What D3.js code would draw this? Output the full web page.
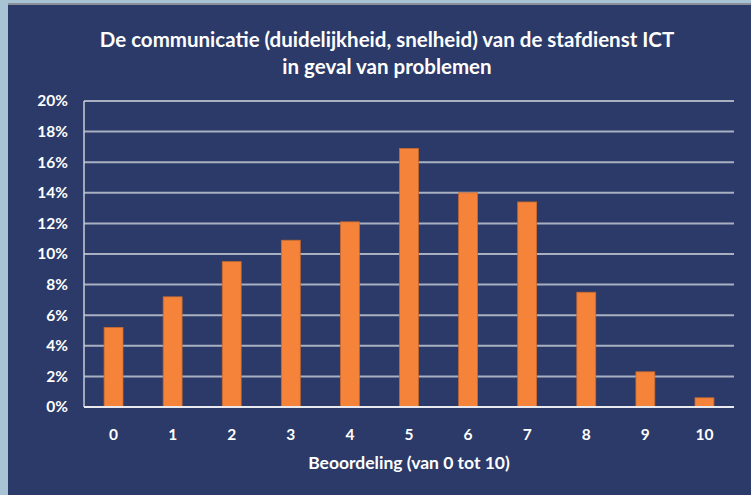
<!DOCTYPE html>
<html><head><meta charset="utf-8">
<script src="https://cdn.jsdelivr.net/npm/d3@7"></script>
<style>html,body{margin:0;padding:0;background:#a8c3d3;}svg{display:block;}</style>
</head><body>
<svg id="chart" width="751" height="495"></svg>
<script>
const titleLines = ["De communicatie (duidelijkheid, snelheid) van de stafdienst ICT", "in geval van problemen"];
const categories = ["0","1","2","3","4","5","6","7","8","9","10"];
const values = [0.052, 0.072, 0.095, 0.109, 0.121, 0.169, 0.140, 0.134, 0.075, 0.023, 0.006];
const yTicks = [0,0.02,0.04,0.06,0.08,0.10,0.12,0.14,0.16,0.18,0.20];
const xAxisTitle = "Beoordeling (van 0 tot 10)";

const svg = d3.select("#chart");
const font = "Lato, 'Open Sans', sans-serif";
// panel
svg.append("rect").attr("x",8).attr("y",3).attr("width",743).attr("height",492).attr("fill","#8a8f99");
svg.append("rect").attr("x",8).attr("y",5).attr("width",743).attr("height",490).attr("fill","#2b3a68");

const m = {left:84, right:734, top:101, bottom:407};
const x = d3.scaleBand().domain(categories).range([m.left,m.right]).paddingInner(0.68).paddingOuter(0.34);
const y = d3.scaleLinear().domain([0,0.2]).range([m.bottom,m.top]);

// gridlines
svg.append("g").selectAll("line").data(yTicks.slice(1)).join("line")
  .attr("x1",m.left).attr("x2",m.right).attr("y1",d=>y(d)).attr("y2",d=>y(d))
  .attr("stroke","#a9b0c2").attr("stroke-width",2);
// left axis line
svg.append("line").attr("x1",m.left).attr("x2",m.left).attr("y1",m.top).attr("y2",m.bottom)
  .attr("stroke","#c8ccd6").attr("stroke-width",1.5);

// bars
svg.append("g").selectAll("rect").data(values).join("rect")
  .attr("x",(d,i)=>x(categories[i])).attr("width",x.bandwidth())
  .attr("y",d=>y(d)).attr("height",d=>y(0)-y(d))
  .attr("fill","#f5843a").attr("stroke","#c86a30").attr("stroke-width",0.8);

// baseline
svg.append("line").attr("x1",m.left).attr("x2",m.right).attr("y1",y(0)).attr("y2",y(0))
  .attr("stroke","#e8eaf0").attr("stroke-width",2);

// y axis labels
const yAxis = d3.axisLeft(y).tickValues(yTicks).tickFormat(d3.format(".0%")).tickSize(0).tickPadding(16);
const gy = svg.append("g").attr("transform",`translate(${m.left},0)`).call(yAxis);
gy.select(".domain").remove();
gy.selectAll("text").attr("fill","#ffffff").attr("font-family",font).attr("font-weight","bold").attr("font-size","15.5px");

// x axis labels
const xAxis = d3.axisBottom(x).tickSize(0).tickPadding(22);
const gx = svg.append("g").attr("transform",`translate(0,${m.bottom})`).call(xAxis);
gx.select(".domain").remove();
gx.selectAll("text").attr("fill","#ffffff").attr("font-family",font).attr("font-weight","bold").attr("font-size","15.5px");

// x title
svg.append("text").attr("x",409).attr("y",469).attr("text-anchor","middle")
  .attr("fill","#ffffff").attr("font-family",font).attr("font-weight","bold").attr("font-size","17.5px")
  .text(xAxisTitle);

// title
svg.append("g").selectAll("text").data(titleLines).join("text")
  .attr("x",387).attr("y",(d,i)=>47+i*27).attr("text-anchor","middle")
  .attr("fill","#ffffff").attr("font-family",font).attr("font-weight","bold").attr("font-size","20.5px")
  .text(d=>d);
</script>
</body></html>
